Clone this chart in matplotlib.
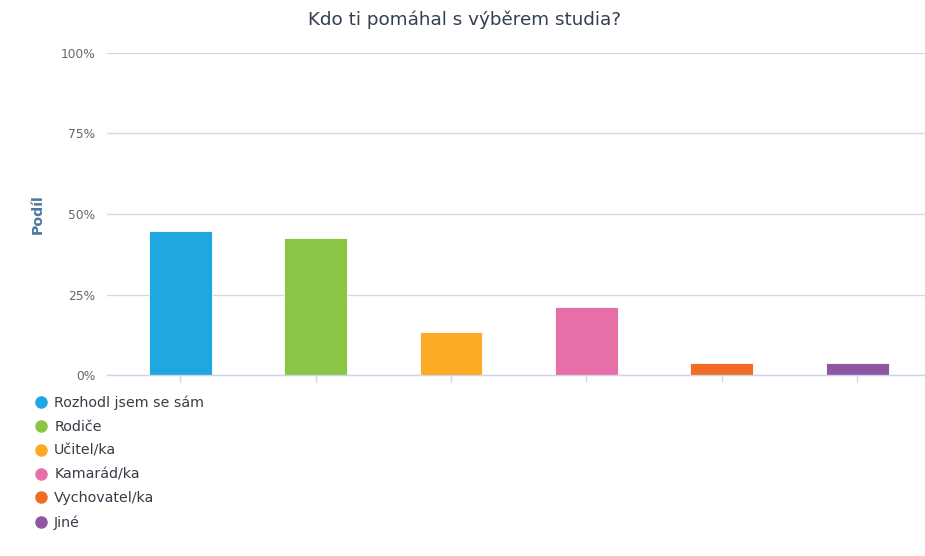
import matplotlib
matplotlib.use("Agg")
import matplotlib.pyplot as plt
from matplotlib.lines import Line2D
import numpy as np

categories = ["Rozhodl jsem se sám", "Rodiče", "Učitel/ka", "Kamarád/ka", "Vychovatel/ka", "Jiné"]
values = [44.7, 42.4, 13.3, 21.0, 3.6, 3.6]
colors = ["#1ea7e0", "#8bc546", "#fdaa25", "#e76fa8", "#f26b25", "#8e56a3"]
yticks = [0, 25, 50, 75, 100]
ytick_labels = ["0%", "25%", "50%", "75%", "100%"]
title = "Kdo ti pomáhal s výběrem studia?"
ylabel = "Podíl"

W, H = 925, 556
fig = plt.figure(figsize=(W / 100, H / 100), dpi=100)
fig.patch.set_facecolor("white")

left, right = 107 / W, 925 / W
top, bottom = 1 - 53 / H, 1 - 375 / H
ax = fig.add_axes([left, bottom, right - left, top - bottom])

x = np.arange(len(categories))
ax.bar(x, values, width=0.465, color=colors, edgecolor="white", linewidth=0.6, zorder=3)

ax.set_xlim(-0.54, len(categories) - 0.5)
ax.set_ylim(0, 100)
ax.set_yticks(yticks)
ax.set_yticklabels(ytick_labels, fontsize=8.8, color="#666666")
ax.set_xticks(x)
ax.set_xticklabels([])
ax.tick_params(axis="y", length=0, pad=8.5)
ax.tick_params(axis="x", length=5, color="#ccd6eb", width=1)
ax.grid(axis="y", color="#d8d8d8", linewidth=1, zorder=1)
for s in ["top", "right", "left"]:
    ax.spines[s].set_visible(False)
ax.spines["bottom"].set_color("#ccd6eb")
ax.spines["bottom"].set_linewidth(1)
ax.spines["bottom"].set_zorder(4)

fig.text(464 / W, 1 - 20 / H, title, fontsize=13.2, color="#333f50", ha="center", va="center")
fig.text(38 / W, 1 - 214 / H, ylabel, fontsize=10.2, color="#4d759e", fontweight="bold",
         rotation=90, ha="center", va="center")

handles = [Line2D([0], [0], marker="o", linestyle="none", markersize=8,
                  markerfacecolor=c, markeredgecolor=c) for c in colors]
leg = fig.legend(handles, categories, loc="upper left", bbox_to_anchor=(32 / W, 1 - 396 / H),
                 frameon=False, fontsize=10.3, handletextpad=0.35, labelspacing=0.68,
                 handlelength=1.2, borderaxespad=0, borderpad=0)
for t in leg.get_texts():
    t.set_color("#363d48")

fig.savefig("out.png", dpi=100, facecolor="white")
